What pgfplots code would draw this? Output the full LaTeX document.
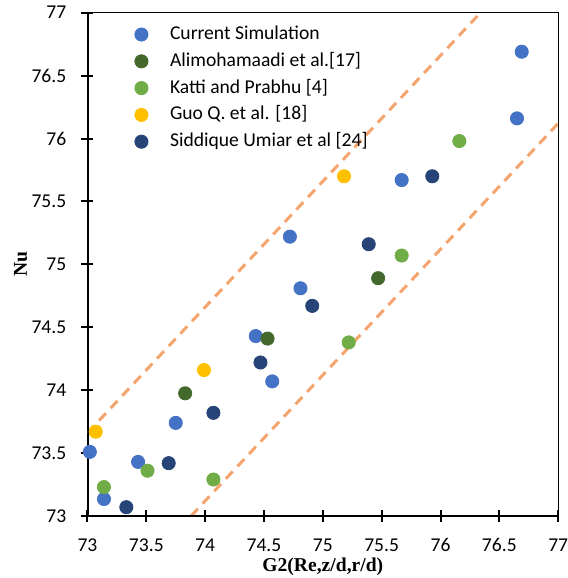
\documentclass[border=0pt]{standalone}
\usepackage{pgfplots}
\pgfplotsset{compat=1.18}
\usepackage{fontspec}
\setmainfont{Carlito}
\newfontfamily\tnr{Liberation Serif}
\definecolor{cursim}{HTML}{4472C4}
\definecolor{alim}{HTML}{43682B}
\definecolor{katti}{HTML}{70AD47}
\definecolor{guo}{HTML}{FFC000}
\definecolor{sidd}{HTML}{264478}
\definecolor{dashor}{HTML}{F4A46C}
\begin{document}
\begin{tikzpicture}
\begin{axis}[
  name=ax,
  at={(0,0)}, anchor=south west,
  scale only axis,
  width=235.4pt, height=251.7pt,
  xmin=73, xmax=77, ymin=73, ymax=77,
  xtick={73,73.5,74,74.5,75,75.5,76,76.5,77},
  ytick={73,73.5,74,74.5,75,75.5,76,76.5,77},
  xticklabels={73,73.5,74,74.5,75,75.5,76,76.5,77},
  yticklabels={73,73.5,74,74.5,75,75.5,76,76.5,77},
  xtick pos=left, ytick pos=left,
  tick align=center, major tick length=6pt,
  tick style={black, line width=1pt},
  axis line style={black, line width=0.65pt},
  ticklabel style={font=\fontsize{9.8}{12}\selectfont, inner sep=0pt},
  xticklabel style={anchor=base, yshift=-14.9pt},
  yticklabel style={anchor=east, xshift=-7.4pt},
  xlabel={\tnr\bfseries G2(Re,z/d,r/d)},
  ylabel={\tnr\bfseries Nu},
  label style={font=\fontsize{9.8}{12}\selectfont},
  xlabel style={at={(rel axis cs:0.5,0)}, anchor=base, inner sep=0pt, yshift=-27.6pt},
  ylabel style={at={(rel axis cs:0,0.5)}, anchor=center, inner sep=0pt, yshift=33.5pt},
  legend cell align=left,
  legend style={at={(rel axis cs:0.087,0.992)}, anchor=north west, draw=none, fill=none,
    font=\fontsize{9.8}{12}\selectfont,
    nodes={inner ysep=2.2pt, text height=7pt, text depth=2pt},
    /tikz/every odd column/.append style={column sep=9pt}},
]
\addplot[dashor, line width=1.5pt, dash pattern=on 5pt off 3.5pt, forget plot] coordinates {(73,73.66) (76.34,77)};
\addplot[dashor, line width=1.5pt, dash pattern=on 5pt off 3.5pt, forget plot] coordinates {(73.88,73) (77,76.12)};
\addplot[only marks, mark=*, mark size=3.3pt, color=cursim] coordinates {
(73.02,73.51) (73.14,73.135) (73.43,73.43) (73.75,73.74) (74.57,74.07) (74.43,74.43)
(74.81,74.81) (74.72,75.22) (75.67,75.67) (76.65,76.16) (76.69,76.69)};
\addlegendentry{Current Simulation}
\addplot[only marks, mark=*, mark size=3.3pt, color=alim] coordinates {
(73.83,73.975) (74.53,74.41) (75.47,74.89)};
\addlegendentry{Alimohamaadi et al.[17]}
\addplot[only marks, mark=*, mark size=3.3pt, color=katti] coordinates {
(73.14,73.23) (73.51,73.36) (74.07,73.29) (75.22,74.38) (75.67,75.07) (76.16,75.98)};
\addlegendentry{Katti and Prabhu [4]}
\addplot[only marks, mark=*, mark size=3.3pt, color=guo] coordinates {
(73.07,73.67) (73.99,74.16) (75.18,75.70)};
\addlegendentry{Guo Q. et al. [18]}
\addplot[only marks, mark=*, mark size=3.3pt, color=sidd] coordinates {
(73.33,73.07) (73.69,73.42) (74.07,73.82) (74.47,74.22) (74.91,74.67) (75.39,75.16) (75.93,75.70)};
\addlegendentry{Siddique Umiar et al [24]}
\draw[black, line width=1.35pt] (rel axis cs:0,1) -- (rel axis cs:0,0) -- (rel axis cs:1,0);
\end{axis}
\pgfresetboundingbox
\path ([xshift=-43.75pt,yshift=-31pt]ax.south west) rectangle ([xshift=4.85pt,yshift=6.35pt]ax.north east);
\end{tikzpicture}
\end{document}
